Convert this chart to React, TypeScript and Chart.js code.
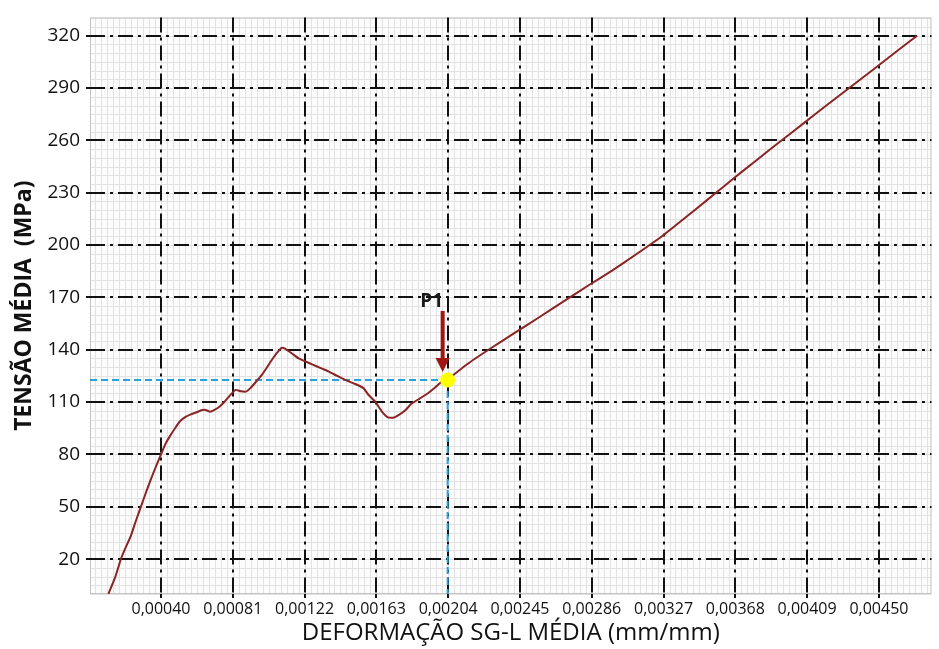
import React, { useEffect, useRef } from "react";
import { Chart, registerables } from "chart.js";

Chart.register(...registerables);

// ---- Data ----
const STRAIN = [
  0.000105, 0.000145, 0.000176, 0.000205, 0.000232, 0.000262, 0.000292, 0.000322, 0.000352, 0.00038,
  0.000405, 0.00043, 0.000456, 0.000485, 0.000513, 0.000545, 0.000575, 0.000605, 0.000635, 0.00066,
  0.000685, 0.00071, 0.00074, 0.00077, 0.0008, 0.00083, 0.00086, 0.00089, 0.000915, 0.00095,
  0.00098, 0.00101, 0.001036, 0.001065, 0.001093, 0.001115, 0.00115, 0.00119, 0.001229, 0.00127,
  0.00132, 0.001362, 0.00141, 0.001456, 0.00151, 0.00156, 0.001588, 0.001626, 0.001664, 0.0017,
  0.00173, 0.00176, 0.0018, 0.001833, 0.00188, 0.001928, 0.00197, 0.002003, 0.00204, 0.00206,
  0.002155, 0.002284, 0.00242, 0.00256, 0.002737, 0.00284, 0.00298, 0.00312, 0.003264, 0.003452,
  0.003569, 0.003672, 0.0038, 0.003946, 0.004068, 0.0042, 0.004323, 0.004483, 0.0046, 0.004718,
];
const STRESS = [
  0, 10, 20, 27, 33, 42, 50.5, 59, 67, 74,
  80, 86, 90.5, 95, 99, 101.5, 103, 104, 105.3, 105.5,
  104.5, 105.5, 107.5, 110.5, 114, 117, 116.2, 116, 118, 122,
  125.6, 130, 134, 138, 141.1, 140.5, 138, 135, 133.3, 131.5,
  129.3, 127.5, 125, 122.7, 120.5, 118, 114.2, 110.4, 104.7, 101.2,
  101, 102.5, 105.5, 109, 112, 115.1, 118.5, 121.5, 122.7, 124.5,
  132, 140.7, 149.5, 158.5, 170, 176.7, 185.5, 195, 205.2, 220.3,
  229.8, 238.3, 248.5, 260.1, 269.6, 280, 289.5, 301.8, 311, 320,
];

const P1_X = 0.00204;
const P1_Y = 122.7;
const P1_LABEL = "P1";

const X_TICKS = [
  0.000405, 0.0008145, 0.001224, 0.0016335, 0.002043, 0.0024525, 0.002862, 0.0032715, 0.003681, 0.0040905, 0.0045,
];
const X_TICK_LABELS = [
  "0,00040", "0,00081", "0,00122", "0,00163", "0,00204", "0,00245", "0,00286", "0,00327", "0,00368", "0,00409", "0,00450",
];
const Y_TICKS = [20, 50, 80, 110, 140, 170, 200, 230, 260, 290, 320];

const X_MIN = 0;
const X_MAX = 0.0048;
const Y_MIN = 0;
const Y_MAX = 330.5;

const X_TITLE = "DEFORMAÇÃO SG-L MÉDIA (mm/mm)";
const Y_TITLE = "TENSÃO MÉDIA  (MPa)";

const FONT = "'Open Sans', 'Noto Sans', sans-serif";
const GRID_DASH = [15, 5, 3, 5];

const texturePlugin = {
  id: "texture",
  beforeDraw(chart: any) {
    const { ctx, chartArea: a, scales } = chart;
    const xs = scales.x;
    const ys = scales.y;
    ctx.save();
    ctx.fillStyle = "#fcfcfc";
    ctx.fillRect(a.left, a.top, a.right - a.left, a.bottom - a.top);
    ctx.strokeStyle = "#e2e2e2";
    ctx.lineWidth = 1;
    ctx.beginPath();
    const xStep = (X_TICKS[1] - X_TICKS[0]) / 12;
    for (let v = X_TICKS[0]; v >= X_MIN; v -= xStep) {
      const p = Math.round(xs.getPixelForValue(v)) + 0.5;
      ctx.moveTo(p, a.top);
      ctx.lineTo(p, a.bottom);
    }
    for (let v = X_TICKS[0] + xStep; v <= X_MAX; v += xStep) {
      const p = Math.round(xs.getPixelForValue(v)) + 0.5;
      ctx.moveTo(p, a.top);
      ctx.lineTo(p, a.bottom);
    }
    const yStep = (Y_TICKS[1] - Y_TICKS[0]) / 6;
    for (let v = Y_TICKS[0] - yStep * 4; v <= Y_MAX; v += yStep) {
      if (v < Y_MIN) continue;
      const p = Math.round(ys.getPixelForValue(v)) + 0.5;
      ctx.moveTo(a.left, p);
      ctx.lineTo(a.right, p);
    }
    ctx.stroke();
    ctx.strokeStyle = "#c4c4c4";
    ctx.strokeRect(a.left + 0.5, a.top + 0.5, a.right - a.left - 1, a.bottom - a.top - 1);
    ctx.restore();
  },
};

const p1Plugin = {
  id: "p1",
  afterDatasetsDraw(chart: any) {
    const { ctx, scales } = chart;
    const px = scales.x.getPixelForValue(P1_X);
    const py = scales.y.getPixelForValue(P1_Y);
    const ax = px - 5;
    ctx.save();
    ctx.strokeStyle = "#a01414";
    ctx.fillStyle = "#a01414";
    ctx.lineWidth = 4;
    ctx.beginPath();
    ctx.moveTo(ax, py - 69);
    ctx.lineTo(ax, py - 20);
    ctx.stroke();
    ctx.beginPath();
    ctx.moveTo(ax - 7, py - 22);
    ctx.lineTo(ax + 7, py - 22);
    ctx.lineTo(ax, py - 8);
    ctx.closePath();
    ctx.fill();
    ctx.fillStyle = "#1a1a1a";
    ctx.font = `bold 19px ${FONT}`;
    ctx.textAlign = "center";
    ctx.textBaseline = "middle";
    ctx.fillText(P1_LABEL, px - 16, py - 78);
    ctx.restore();
  },
};

export default function App() {
  const ref = useRef<HTMLCanvasElement | null>(null);

  useEffect(() => {
    if (!ref.current) return;
    const curve = STRAIN.map((x, i) => ({ x, y: STRESS[i] }));
    const chart = new Chart(ref.current, {
      type: "line",
      data: {
        datasets: [
          {
            label: "P1",
            data: [{ x: P1_X, y: P1_Y }],
            showLine: false,
            pointRadius: 7.5,
            pointBackgroundColor: "#ffff00",
            pointBorderColor: "#ffff00",
            pointBorderWidth: 0,
          },
          {
            label: "curve",
            data: curve,
            borderColor: "#8b2525",
            borderWidth: 2,
            pointRadius: 0,
            tension: 0.15,
            fill: false,
          },
          {
            label: "hline",
            data: [{ x: X_MIN, y: P1_Y }, { x: P1_X, y: P1_Y }],
            borderColor: "#27a2dc",
            borderWidth: 2,
            borderDash: [7, 4],
            pointRadius: 0,
          },
          {
            label: "vline",
            data: [{ x: P1_X, y: P1_Y }, { x: P1_X, y: Y_MIN }],
            borderColor: "#27a2dc",
            borderWidth: 2,
            borderDash: [7, 4],
            pointRadius: 0,
          },
        ],
      },
      options: {
        animation: false,
        responsive: true,
        maintainAspectRatio: false,
        layout: { padding: { top: 13, right: 1, left: 0, bottom: 0 } },
        plugins: { legend: { display: false }, tooltip: { enabled: false } },
        scales: {
          x: {
            type: "linear",
            min: X_MIN,
            max: X_MAX,
            afterBuildTicks: (s: any) => {
              s.ticks = X_TICKS.map((v) => ({ value: v }));
            },
            afterFit: (s: any) => {
              s.height = 55;
            },
            ticks: {
              autoSkip: false,
              maxRotation: 0,
              padding: 2,
              color: "#111",
              font: { family: FONT, size: 16 },
              callback: (_v: any, i: number) => X_TICK_LABELS[i],
            },
            grid: { color: "#111", lineWidth: 2, tickLength: 4, tickColor: "#111" },
            border: { display: false, dash: GRID_DASH },
            title: {
              display: true,
              text: X_TITLE,
              color: "#111",
              font: { family: FONT, size: 24, weight: "normal" },
              padding: { top: 0, bottom: 1 },
            },
          },
          y: {
            type: "linear",
            min: Y_MIN,
            max: Y_MAX,
            afterBuildTicks: (s: any) => {
              s.ticks = Y_TICKS.map((v) => ({ value: v }));
            },
            afterFit: (s: any) => {
              s.width = 90;
            },
            ticks: {
              autoSkip: false,
              padding: 6,
              color: "#111",
              font: { family: FONT, size: 19 },
              callback: (v: any) => String(v),
            },
            grid: { color: "#111", lineWidth: 2, tickLength: 4, tickColor: "#111" },
            border: { display: false, dash: GRID_DASH },
            title: {
              display: true,
              text: Y_TITLE,
              color: "#111",
              font: { family: FONT, size: 23, weight: "bold" },
              padding: { top: 11, bottom: 0 },
            },
          },
        },
      },
      plugins: [texturePlugin, p1Plugin],
    } as any);
    return () => chart.destroy();
  }, []);

  return (
    <div style={{ position: "absolute", left: 0, top: 0, width: 939, height: 649, background: "#fff" }}>
      <canvas ref={ref} />
    </div>
  );
}
